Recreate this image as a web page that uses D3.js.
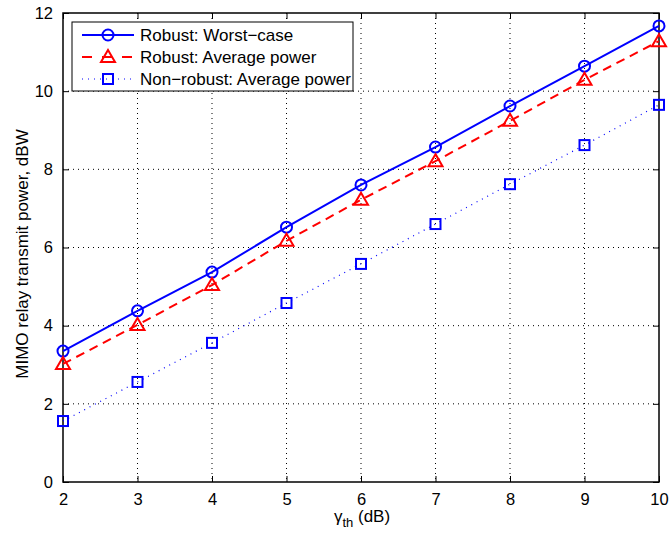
<!DOCTYPE html>
<html><head><meta charset="utf-8">
<script src="https://cdn.jsdelivr.net/npm/d3@7"></script>
<style>body{margin:0;background:#fff}svg{display:block}text{font-family:"Liberation Sans",Arial,sans-serif}</style>
</head><body>
<svg id="c" width="670" height="534"></svg>
<script>
const xs = [2,3,4,5,6,7,8,9,10];
const worstCase = [3.35,4.38,5.37,6.52,7.60,8.57,9.62,10.64,11.67];
const avgPower = [3.02,4.02,5.04,6.17,7.22,8.21,9.24,10.29,11.28];
const nonRobust = [1.56,2.56,3.56,4.58,5.58,6.60,7.62,8.62,9.65];
const xTicks = [2,3,4,5,6,7,8,9,10];
const yTicks = [0,2,4,6,8,10,12];
const names = ["Robust: Worst\u2212case","Robust: Average power","Non\u2212robust: Average power"];

const svg = d3.select("#c");
const L=63,R=659,T=13,B=482;
const x = d3.scaleLinear().domain([2,10]).range([L,R]);
const y = d3.scaleLinear().domain([0,12]).range([B,T]);

// grid
const g = svg.append("g");
xTicks.slice(1,-1).forEach(t=>g.append("line").attr("x1",x(t)).attr("x2",x(t)).attr("y1",T).attr("y2",B)
  .attr("stroke","#000").attr("stroke-width",1).attr("stroke-dasharray","1,4"));
yTicks.slice(1,-1).forEach(t=>g.append("line").attr("y1",y(t)).attr("y2",y(t)).attr("x1",L).attr("x2",R)
  .attr("stroke","#000").attr("stroke-width",1).attr("stroke-dasharray","1,4"));

// axes
const xa = svg.append("g").attr("transform",`translate(0,${B})`).call(d3.axisBottom(x).tickValues(xTicks).tickSizeInner(-6).tickSizeOuter(0).tickPadding(11));
const xt = svg.append("g").attr("transform",`translate(0,${T})`).call(d3.axisTop(x).tickValues(xTicks).tickSizeInner(-6).tickSizeOuter(0).tickFormat(""));
const ya = svg.append("g").attr("transform",`translate(${L},0)`).call(d3.axisLeft(y).tickValues(yTicks).tickSizeInner(-6).tickSizeOuter(0).tickPadding(10));
const yr = svg.append("g").attr("transform",`translate(${R},0)`).call(d3.axisRight(y).tickValues(yTicks).tickSizeInner(-6).tickSizeOuter(0).tickFormat(""));
[xa,xt,ya,yr].forEach(a=>{a.select(".domain").remove();a.selectAll("line").attr("stroke","#000");a.selectAll("text").attr("font-size",16.5).attr("fill","#000").attr("font-family","Liberation Sans, Arial, sans-serif");});
svg.append("rect").attr("x",L).attr("y",T).attr("width",R-L).attr("height",B-T).attr("fill","none").attr("stroke","#000").attr("stroke-width",1.5);

// series
const series = [
  {v:worstCase,color:"#0000ff",dash:null,marker:"circle"},
  {v:avgPower,color:"#ff0000",dash:"9,6",marker:"triangle"},
  {v:nonRobust,color:"#0000ff",dash:"1,5",marker:"square"}
];
const line = d3.line().x(d=>x(d[0])).y(d=>y(d[1]));
function marker(sel,type,cx,cy,color){
  if(type==="circle") sel.append("circle").attr("cx",cx).attr("cy",cy).attr("r",5.5).attr("fill","none").attr("stroke",color).attr("stroke-width",2);
  else if(type==="triangle") sel.append("path").attr("d",`M${cx},${cy-7}L${cx+7},${cy+5}L${cx-7},${cy+5}Z`).attr("fill","none").attr("stroke",color).attr("stroke-width",2);
  else sel.append("rect").attr("x",cx-5).attr("y",cy-5).attr("width",10).attr("height",10).attr("fill","none").attr("stroke",color).attr("stroke-width",2);
}
series.forEach(s=>{
  const data = xs.map((d,i)=>[d,s.v[i]]);
  svg.append("path").attr("d",line(data)).attr("fill","none").attr("stroke",s.color).attr("stroke-width",s.dash==="1,5"?1.2:2).attr("stroke-dasharray",s.dash);
  const mg = svg.append("g");
  data.forEach(d=>marker(mg,s.marker,x(d[0]),y(d[1]),s.color));
});

// legend
const lg = svg.append("g");
lg.append("rect").attr("x",72).attr("y",22).attr("width",281).attr("height",69).attr("fill","#fff").attr("stroke","#000").attr("stroke-width",1);
series.forEach((s,i)=>{
  const cy = 35+i*22;
  lg.append("line").attr("x1",82).attr("x2",134).attr("y1",cy).attr("y2",cy).attr("stroke",s.color).attr("stroke-width",s.dash==="1,5"?1.2:2).attr("stroke-dasharray",s.dash==="9,6"?"10,10":s.dash);
  marker(lg,s.marker,108,cy,s.color);
  lg.append("text").attr("x",140).attr("y",cy+6).attr("font-size",17).text(names[i]);
});

// labels
const xl = svg.append("text").attr("x",362).attr("y",522).attr("text-anchor","middle").attr("font-size",17);
xl.append("tspan").text("\u03b3");
xl.append("tspan").attr("font-size",13).attr("dy",5).text("th");
xl.append("tspan").attr("dy",-5).text(" (dB)");
svg.append("text").attr("transform","translate(28,254) rotate(-90)").attr("text-anchor","middle").attr("font-size",17).text("MIMO relay transmit power, dBW");
</script>
</body></html>
